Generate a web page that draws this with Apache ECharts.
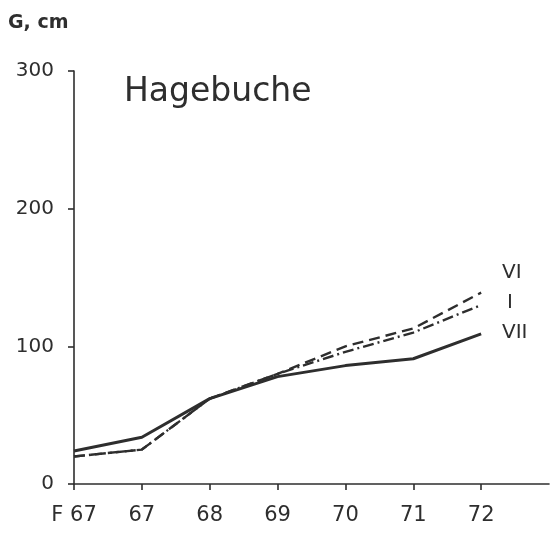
<!DOCTYPE html>
<html>
<head>
    <meta charset="utf-8">
    <title>Hagebuche</title>
    <script type="text/javascript" src="https://cdn.jsdelivr.net/npm/echarts@6/dist/echarts.min.js"></script>
    <style>
        body { margin: 0; background: #fff; }
    </style>
</head>
<body>
<div id="main" style="width: 552px;height:533px;"></div>
<script type="text/javascript">
    // years on the x axis, last one empty so the axis runs on past 72
    var years = ['F 67', '67', '68', '69', '70', '71', '72', ''];
    var yTicks = [0, 100, 200, 300];

    var seriesVII = [24, 34, 62, 78, 86, 91, 109];
    var seriesVI = [20, 25, 62, 80, 100, 113, 139];
    var seriesI = [20, 25, 62, 80, 96, 110, 130];

    var ink = '#2e2e2e';
    var font = 'DejaVu Sans';

    var myChart = echarts.init(document.getElementById('main'));

    var option = {
        backgroundColor: '#fff',
        animation: false,
        grid: { left: 74, right: 2, top: 71, bottom: 49 },
        xAxis: {
            type: 'category',
            data: years,
            boundaryGap: false,
            axisLine: { lineStyle: { color: ink, width: 1.6 } },
            axisTick: {
                show: true, length: 6, lineStyle: { color: ink, width: 1.6 },
                interval: function (i) { return i < 7; }
            },
            axisLabel: { color: ink, fontSize: 21, fontFamily: font, margin: 21, interval: 0 },
            splitLine: { show: false }
        },
        yAxis: {
            type: 'value',
            min: yTicks[0],
            max: yTicks[yTicks.length - 1],
            interval: 100,
            axisLine: { show: true, lineStyle: { color: ink, width: 1.6 } },
            axisTick: { show: true, length: 6, lineStyle: { color: ink, width: 1.6 } },
            axisLabel: { color: ink, fontSize: 20, fontFamily: font, margin: 20 },
            splitLine: { show: false }
        },
        series: [
            {
                name: 'VII', type: 'line', data: seriesVII, symbol: 'none',
                lineStyle: { color: ink, width: 3, type: 'solid' }
            },
            {
                name: 'VI', type: 'line', data: seriesVI, symbol: 'none',
                lineStyle: { color: ink, width: 2.4, type: [11, 6] }
            },
            {
                name: 'I', type: 'line', data: seriesI, symbol: 'none',
                lineStyle: { color: ink, width: 2.4, type: [11, 4, 2, 4] }
            }
        ],
        graphic: [
            { type: 'text', left: 8, top: 14, style: { text: 'G, cm', fill: ink, font: 'bold 19px ' + font } },
            { type: 'text', left: 124, top: 76, style: { text: 'Hagebuche', fill: ink, font: '33px ' + font } },
            { type: 'text', left: 502, top: 263, style: { text: 'VI', fill: ink, font: '20px ' + font } },
            { type: 'text', left: 507, top: 293, style: { text: 'I', fill: ink, font: '20px ' + font } },
            { type: 'text', left: 502, top: 323, style: { text: 'VII', fill: ink, font: '20px ' + font } }
        ]
    };

    myChart.setOption(option);
</script>
</body>
</html>
